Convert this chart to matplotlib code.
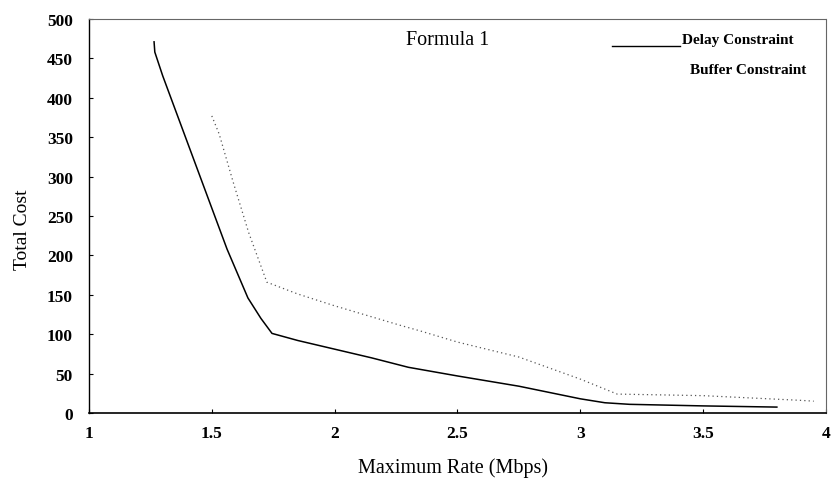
import matplotlib
matplotlib.use("Agg")
import matplotlib.pyplot as plt

plt.rcParams['font.family'] = ['Liberation Serif', 'DejaVu Serif']

delay_x = [1.265, 1.268, 1.30, 1.40, 1.50, 1.562, 1.647, 1.70, 1.745, 1.85, 2.00, 2.15, 2.30, 2.50, 2.75, 3.00, 3.10, 3.20, 3.50, 3.80]
delay_y = [471, 458, 428, 344, 260, 208, 146, 120, 101, 92, 81, 70, 58, 47, 34, 18, 13, 11, 9, 7.5]

buffer_x = [1.50, 1.53, 1.587, 1.65, 1.724, 1.85, 2.00, 2.27, 2.35, 2.50, 2.75, 3.00, 3.15, 3.50, 3.90, 3.95]
buffer_y = [377, 354, 293, 229, 166, 151, 136, 111, 104, 90, 71, 43, 24, 22, 16, 15]

xticks = [1, 1.5, 2, 2.5, 3, 3.5, 4]
xticklabels = ['1', '1.5', '2', '2.5', '3', '3.5', '4']
yticks = [0, 50, 100, 150, 200, 250, 300, 350, 400, 450, 500]

fig = plt.figure(figsize=(8.33, 4.85), dpi=100)
ax = fig.add_axes([0.1068, 0.1464, 0.8848, 0.8124])

ax.plot(delay_x, delay_y, color='black', lw=1.1, label='Delay Constraint')
ax.plot(buffer_x, buffer_y, color='#555555', lw=0.9, linestyle=(0, (1, 2.5)), label='Buffer Constraint')

ax.set_xlim(1, 4)
ax.set_ylim(0, 500)
ax.set_xticks(xticks)
ax.set_xticklabels(xticklabels)
ax.set_yticks(yticks)

for lab in ax.get_xticklabels() + ax.get_yticklabels():
    lab.set_fontweight('bold')
    lab.set_fontsize(12.5)

ax.tick_params(axis='x', direction='in', length=3, pad=9, width=0.8)
ax.tick_params(axis='y', direction='in', length=3, pad=11.5, width=0.8)

ax.spines['left'].set_linewidth(1.0)
ax.spines['bottom'].set_linewidth(1.2)
for s in ['top', 'right']:
    ax.spines[s].set_linestyle((0, (1, 1)))
    ax.spines[s].set_color('#666666')
    ax.spines[s].set_linewidth(0.8)

ax.set_xlabel('Maximum Rate (Mbps)', fontsize=14.5)
ax.xaxis.set_label_coords(0.494, -0.113)
ax.set_ylabel('Total Cost', fontsize=14)
ax.yaxis.set_label_coords(-0.079, 0.467)

ax.text(0.486, 0.949, 'Formula 1', transform=ax.transAxes, fontsize=14.5, va='center', ha='center')

# legend drawn manually to mimic original
ax.plot([0.710, 0.802], [0.931, 0.931], transform=ax.transAxes, color='black', lw=1.0)
ax.text(0.8046, 0.949, 'Delay Constraint', transform=ax.transAxes, fontsize=11, fontweight='bold', va='center', ha='left')
ax.text(0.815, 0.873, 'Buffer Constraint', transform=ax.transAxes, fontsize=11, fontweight='bold', va='center', ha='left')

fig.savefig('out.png', dpi=100)
